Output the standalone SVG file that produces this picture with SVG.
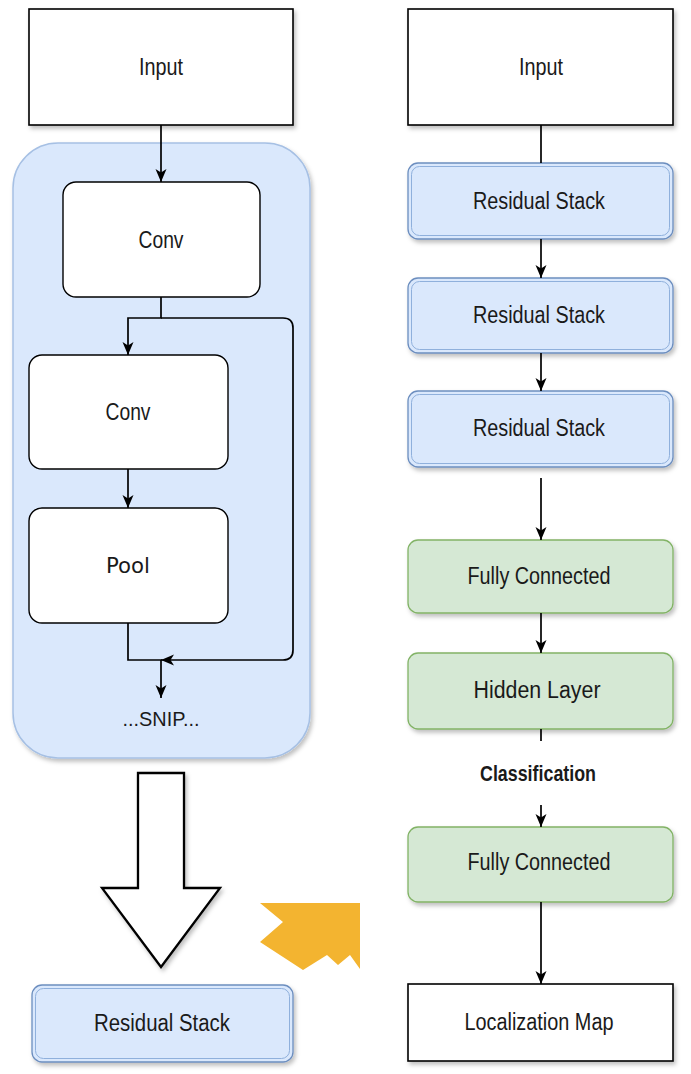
<svg xmlns="http://www.w3.org/2000/svg" width="691" height="1074" viewBox="0 0 691 1074">
<style>
  .t { font-family: "Liberation Sans Narrow", "Liberation Sans", Arial, sans-serif; font-size: 23px; fill: #1a1a1a; text-anchor: middle; }
  .pool { font-family: "DejaVu Sans", "Open Sans", sans-serif; font-size: 22px; fill: #1a1a1a; text-anchor: middle; }
  .bold { font-weight: bold; }
  .plain { fill: #ffffff; stroke: #000000; stroke-width: 1.6; }
  .round { fill: #ffffff; stroke: #000000; stroke-width: 1.4; }
  .blue { fill: #dae8fc; stroke: #6c8ebf; stroke-width: 1.3; }
  .blueIn { fill: none; stroke: #8fb0dc; stroke-width: 1; }
  .green { fill: #d5e8d4; stroke: #82b366; stroke-width: 1.3; }
  .cont { fill: #dae8fc; stroke: #a6c0e4; stroke-width: 1.5; }
  .edge { fill: none; stroke: #000000; stroke-width: 1.7; }
</style>
<defs>
  <filter id="sh" x="-10%" y="-10%" width="130%" height="130%">
    <feDropShadow dx="2" dy="3" stdDeviation="2" flood-color="#000000" flood-opacity="0.25"/>
  </filter>
  <marker id="ah" markerUnits="userSpaceOnUse" markerWidth="14" markerHeight="14" viewBox="0 0 14 14" refX="13" refY="7" orient="auto">
    <path d="M0,1.5 L13,7 L0,12.5 L3.5,7 z" fill="#000000"/>
  </marker>
</defs>

<rect width="691" height="1074" fill="#ffffff"/>

<!-- left column -->
<g id="input-left">
  <rect class="plain" x="29" y="9" width="264" height="116" filter="url(#sh)"/>
  <text class="t" x="161" y="75" textLength="44" lengthAdjust="spacingAndGlyphs">Input</text>
</g>

<g id="residual-block">
  <rect class="cont" x="13" y="143" width="297" height="615" rx="45" ry="45" filter="url(#sh)"/>
</g>

<g id="conv1">
  <rect class="round" x="63" y="182" width="197" height="115" rx="13" ry="13"/>
  <text class="t" x="161" y="248" textLength="45" lengthAdjust="spacingAndGlyphs">Conv</text>
</g>

<g id="conv2">
  <rect class="round" x="29" y="355" width="199" height="114" rx="13" ry="13"/>
  <text class="t" x="128" y="420" textLength="45" lengthAdjust="spacingAndGlyphs">Conv</text>
</g>

<g id="pool">
  <rect class="round" x="29" y="508" width="199" height="115" rx="13" ry="13"/>
  <text class="pool" x="128" y="573" textLength="44" lengthAdjust="spacingAndGlyphs">Pool</text>
</g>

<g id="snip">
  <text class="t" x="161" y="726" textLength="77" lengthAdjust="spacingAndGlyphs" style="font-size:21px">...SNIP...</text>
</g>

<g id="big-arrow">
  <polygon points="138,773 184,773 184,888 220,888 161,967 102,888 138,888" fill="#ffffff" stroke="#000000" stroke-width="2.3" stroke-linejoin="miter" filter="url(#sh)"/>
</g>

<g id="residual-stack-left">
  <rect class="blue" x="32" y="985" width="261" height="77" rx="10" ry="10" filter="url(#sh)"/>
  <rect class="blueIn" x="35.5" y="988.5" width="254" height="70" rx="8" ry="8"/>
  <text class="t" x="162" y="1031" textLength="136" lengthAdjust="spacingAndGlyphs">Residual Stack</text>
</g>

<g id="yellow-shape">
  <polygon points="260,903 360,903 360,969 350,955 338,965 327,955 303,970 260,942 283,922" fill="#f3b430"/>
</g>

<!-- right column -->
<g id="input-right">
  <rect class="plain" x="408" y="9" width="265" height="116" filter="url(#sh)"/>
  <text class="t" x="541" y="75" textLength="44" lengthAdjust="spacingAndGlyphs">Input</text>
</g>

<g id="rs1">
  <rect class="blue" x="408" y="163" width="265" height="76" rx="10" ry="10" filter="url(#sh)"/>
  <rect class="blueIn" x="411.5" y="166.5" width="258" height="69" rx="8" ry="8"/>
  <text class="t" x="539" y="209" textLength="132" lengthAdjust="spacingAndGlyphs">Residual Stack</text>
</g>

<g id="rs2">
  <rect class="blue" x="408" y="278" width="265" height="75" rx="10" ry="10" filter="url(#sh)"/>
  <rect class="blueIn" x="411.5" y="281.5" width="258" height="68" rx="8" ry="8"/>
  <text class="t" x="539" y="323" textLength="132" lengthAdjust="spacingAndGlyphs">Residual Stack</text>
</g>

<g id="rs3">
  <rect class="blue" x="408" y="391" width="265" height="76" rx="10" ry="10" filter="url(#sh)"/>
  <rect class="blueIn" x="411.5" y="394.5" width="258" height="69" rx="8" ry="8"/>
  <text class="t" x="539" y="436" textLength="132" lengthAdjust="spacingAndGlyphs">Residual Stack</text>
</g>

<g id="fc1">
  <rect class="green" x="408" y="540" width="265" height="73" rx="10" ry="10" filter="url(#sh)"/>
  <text class="t" x="539" y="584" textLength="143" lengthAdjust="spacingAndGlyphs">Fully Connected</text>
</g>

<g id="hidden">
  <rect class="green" x="408" y="653" width="265" height="76" rx="10" ry="10" filter="url(#sh)"/>
  <text class="t" x="537" y="698" textLength="127" lengthAdjust="spacingAndGlyphs">Hidden Layer</text>
</g>

<g id="fc2">
  <rect class="green" x="408" y="827" width="265" height="75" rx="10" ry="10" filter="url(#sh)"/>
  <text class="t" x="539" y="870" textLength="143" lengthAdjust="spacingAndGlyphs">Fully Connected</text>
</g>

<g id="localization">
  <rect class="plain" x="408" y="984" width="265" height="77" filter="url(#sh)"/>
  <text class="t" x="539" y="1030" textLength="149" lengthAdjust="spacingAndGlyphs">Localization Map</text>
</g>

<!-- connectors -->
<g id="connectors">
  <path class="edge" d="M161,125 V182" marker-end="url(#ah)"/>
  <path class="edge" d="M161,297 V318 H128 V355" marker-end="url(#ah)"/>
  <path class="edge" d="M161,318 H283 Q293,318 293,328 V650 Q293,660 283,660 H161" marker-end="url(#ah)"/>
  <path class="edge" d="M128,469 V508" marker-end="url(#ah)"/>
  <path class="edge" d="M128,623 V660 H161 V698" marker-end="url(#ah)"/>

  <path class="edge" d="M541,125 V163"/>
  <path class="edge" d="M541,239 V278" marker-end="url(#ah)"/>
  <path class="edge" d="M541,353 V391" marker-end="url(#ah)"/>
  <path class="edge" d="M541,478 V540" marker-end="url(#ah)"/>
  <path class="edge" d="M541,613 V653" marker-end="url(#ah)"/>
  <path class="edge" d="M541,729 V827" marker-end="url(#ah)"/>
  <path class="edge" d="M541,902 V984" marker-end="url(#ah)"/>
  <rect x="470" y="741" width="142" height="64" fill="#ffffff"/>
  <text class="t bold" x="538" y="781" textLength="116" lengthAdjust="spacingAndGlyphs" style="font-size:22px">Classification</text>
</g>
</svg>
